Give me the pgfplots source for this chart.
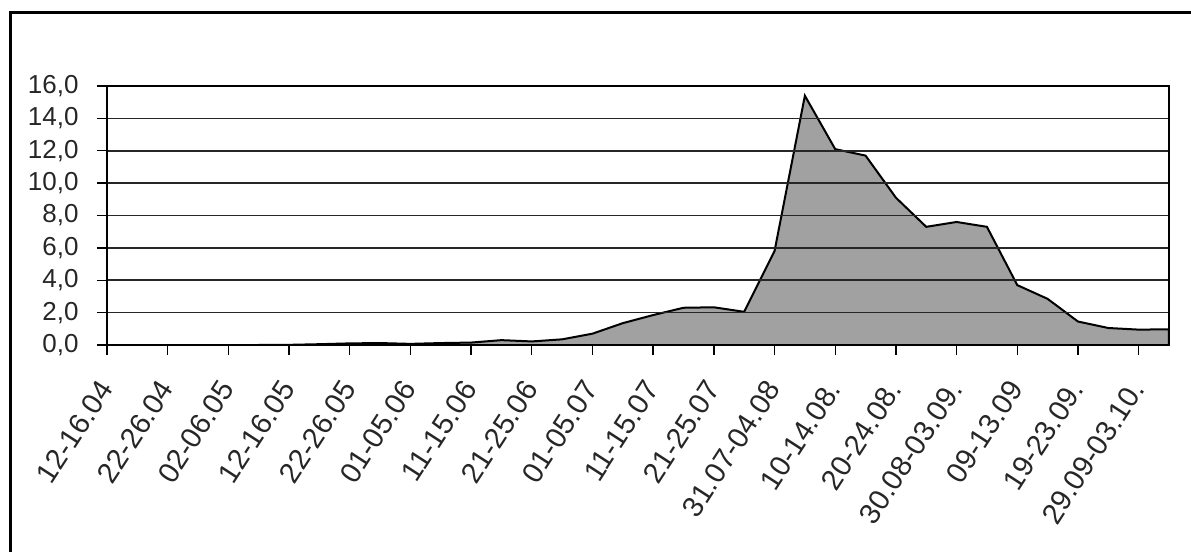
\documentclass[border=0pt]{standalone}
\usepackage{pgfplots}
\pgfplotsset{compat=1.18}
\usepackage{pgfplotstable}
\usepackage{fontspec}
\setmainfont{Liberation Sans}

% one value per pentad, 12-16.04 ... 04-08.10
\pgfplotstableread{
x y
0 0
1 0
2 0
3 0
4 0
5 0
6 0.01
7 0.05
8 0.10
9 0.12
10 0.07
11 0.12
12 0.15
13 0.30
14 0.22
15 0.35
16 0.70
17 1.35
18 1.85
19 2.30
20 2.33
21 2.05
22 5.80
23 15.40
24 12.10
25 11.70
26 9.10
27 7.30
28 7.60
29 7.30
30 3.70
31 2.85
32 1.45
33 1.05
34 0.95
35 0.97
}\datatable

\begin{document}
\begin{tikzpicture}
% 1 px of the reference = 0.5pt
\useasboundingbox (0pt,0pt) rectangle (595.5pt,276pt);
% outer frame (only left and top edges visible)
\draw[line width=1.5pt] (5.25pt,0pt) -- (5.25pt,269.5pt) -- (595.5pt,269.5pt);
\begin{axis}[
    at={(53.5pt,103.5pt)}, anchor=origin,
    scale only axis,
    width=531pt, height=129.5pt,
    xmin=0, xmax=35,
    ymin=0, ymax=16,
    xtick={0,2,...,34},
    xticklabels={12-16.04,22-26.04,02-06.05,12-16.05,22-26.05,01-05.06,11-15.06,21-25.06,01-05.07,11-15.07,21-25.07,31.07-04.08,10-14.08.,20-24.08.,30.08-03.09.,09-13.09,19-23.09.,29.09-03.10.},
    ytick={0,2,...,16},
    yticklabel={\pgfmathprintnumber[fixed,fixed zerofill,precision=1,use comma]{\tick}},
    /pgf/number format/assume math mode=true,
    tick pos=left,
    tick align=outside,
    major tick length=5pt,
    axis line style={line width=0.9pt},
    tick style={line width=0.7pt, black},
    ymajorgrids,
    grid style={line width=0.8pt, black!85},
    yticklabel style={font=\fontsize{13}{13}\selectfont, inner sep=0pt, xshift=-9pt, text=black!85},
    % shifts first, so that they act before the rotation
    xticklabel style={xshift=0pt, yshift=-13.5pt, rotate=57, anchor=east, inner sep=1pt,
        font=\fontsize{14.5}{14.5}\selectfont, text=black!85},
    axis on top,
]
\addplot[draw=black, line width=1pt, fill=black!37] table[x=x,y=y] {\datatable} \closedcycle;
\end{axis}
\end{tikzpicture}
\end{document}
